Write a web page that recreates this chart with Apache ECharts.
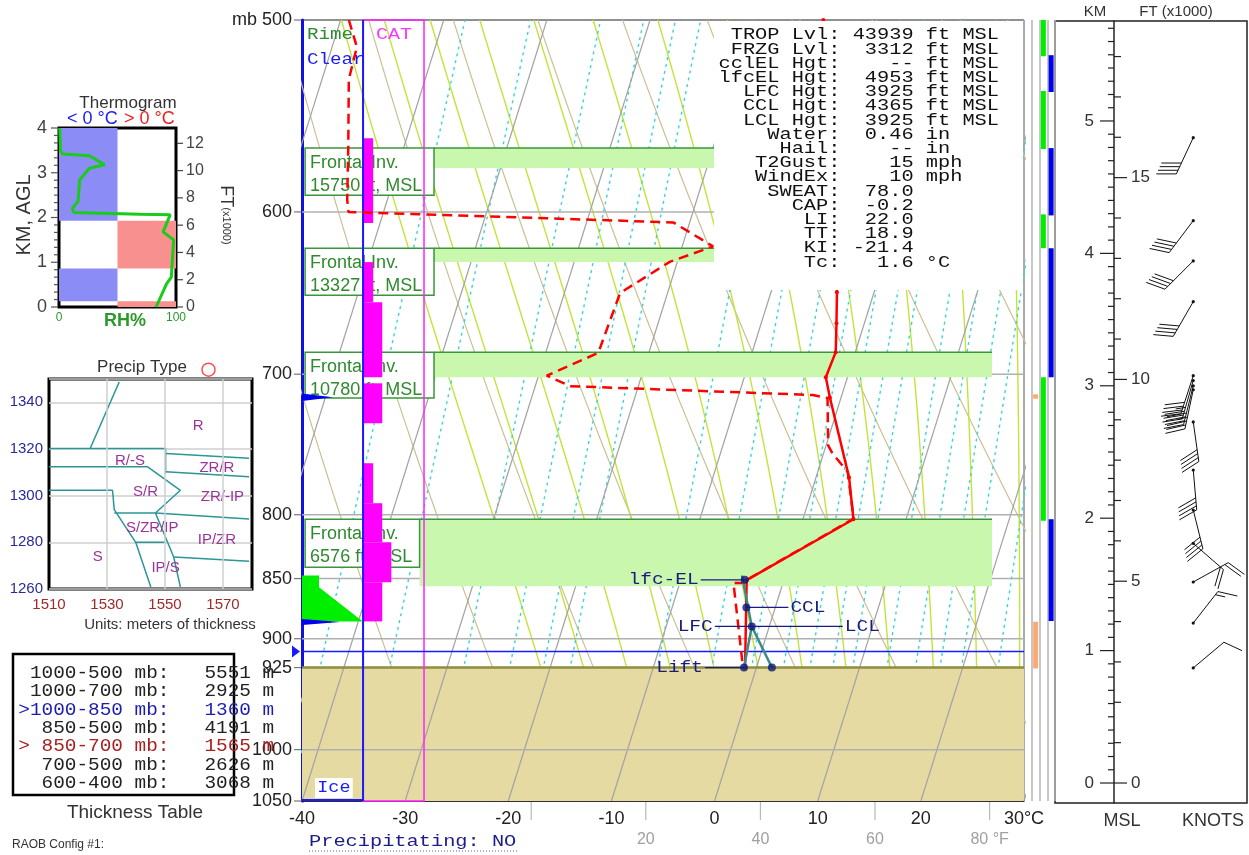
<!DOCTYPE html>
<html>
<head>
<meta charset="utf-8">
<title>RAOB sounding</title>
<script src="https://cdn.jsdelivr.net/npm/echarts@6/dist/echarts.min.js"></script>
<style>
html, body { margin: 0; padding: 0; background: #fff; }
#chart { width: 1249px; height: 855px; }
</style>
</head>
<body>
<div id="chart"></div>
<script>
// ---------------- data ----------------
// pressure axis
var axisLevels = [500, 600, 700, 800, 850, 900, 925, 1000, 1050];
var isobarLevels = [600, 700, 800, 850, 900, 1000];
var groundLevel = 925;
var markedLevel = 911;
// temperature / dewpoint profile (mb, °C)
var tempP = [500, 647.6, 667, 685.5, 702, 715.5, 772.1, 803.4, 851.3, 925];
var tempT = [-13.2, -3.6, -2.7, -1.9, -2.1, -1.1, 3.2, 4.9, -3.6, -1.1];
var dewP = [500, 513, 529, 564, 593, 600, 606, 620, 629, 648, 686, 701, 708, 714, 716, 749, 755, 768, 803, 851, 853.5, 853.5, 925];
var dewT = [-59.2, -57.6, -57.4, -55.4, -53.9, -53.4, -21.6, -17.0, -20.7, -24.6, -24.9, -29.2, -26.6, -2.8, -1.3, 0.2, 0.9, 2.9, 4.9, -3.6, -3.8, -4.8, -1.3];
// lifted parcel
var parcelP = [925, 889.5, 847.5];
var parcelT = [-1.2, -1.7, -4.2];
var convP = [925, 889.5];
var convT = [1.5, -1.7];
var parcelLabels = ['lfc-EL', 'CCL', 'LFC', 'LCL', 'Lift'];
var parcelLabelP = [851, 873.6, 889.5, 889.5, 925];
var parcelLabelT = [-3.8, -2.8, -1.7, -1.7, -1.2];
var parcelDotP = [851, 873.6, 889.5, 925, 925];
var parcelDotT = [-3.8, -2.8, -1.7, -1.2, 1.5];
// frontal inversions
var inversionFt = [15750, 13327, 10780, 6576];
var inversionTopP = [564.7, 621, 685.5, 803.4];
var inversionBottomP = [575.5, 629.3, 702, 856.3];
var inversionBoxBottomP = [590.6, 649.4, 716.1, 841];
// turbulence (CAT) and icing
var catTopP = [559.4, 629.3, 653.7, 706.1, 761.8, 791.3, 821.2, 853];
var catBottomP = [606.4, 653.7, 702, 733.4, 791.3, 821.2, 853, 885.3];
var catLevel = [1, 1, 2, 2, 1, 2, 3, 2];
var rimeP = [847.5, 857.1, 885.3];
var rimeAmount = [1.65, 1.65, 5.9];
var clearP = [715.5, 885.8];
var clearAmount = [3.0, 3.7];
// side strips (mb ranges)
var stripOrange = [[713.5, 716.5], [885.6, 925.8]];
var stripGreen = [[500, 517.5], [534.9, 565.2], [601.4, 621], [702, 804.5]];
var stripBlue = [[517, 535.4], [564.7, 602], [621, 702], [803.4, 885]];
// winds
var windKm = [4.874, 4.247, 3.943, 3.635, 3.076, 3.04, 3.0, 2.97, 2.727, 2.364, 2.062, 1.81, 1.518, 1.208, 0.869];
var windDir = [205, 217, 225, 210, 198, 196, 194, 192, 172, 175, 166, 131, 61, 38, 50];
var windKt = [40, 40, 40, 40, 40, 35, 40, 35, 40, 40, 40, 20, 20, 15, 10];
// stats block
var statLines = [
  ' TROP Lvl: 43939 ft MSL',
  ' FRZG Lvl:  3312 ft MSL',
  'cclEL Hgt:    -- ft MSL',
  'lfcEL Hgt:  4953 ft MSL',
  '  LFC Hgt:  3925 ft MSL',
  '  CCL Hgt:  4365 ft MSL',
  '  LCL Hgt:  3925 ft MSL',
  '    Water:  0.46 in',
  '     Hail:    -- in',
  '   T2Gust:    15 mph',
  '   WindEx:    10 mph',
  '    SWEAT:  78.0',
  '      CAP:  -0.2',
  '       LI:  22.0',
  '       TT:  18.9',
  '       KI: -21.4',
  '       Tc:   1.6 \u00b0C'
];
// thermogram
var thermoRH = [0.6, 1.4, 3.4, 26, 39, 26, 17.7, 16.3, 11.4, 12.6, 69, 95, 89, 98, 96, 92, 83];
var thermoKm = [4.0, 3.48, 3.42, 3.38, 3.18, 3.1, 2.84, 2.36, 2.21, 2.11, 2.07, 2.06, 1.68, 1.5, 0.67, 0.52, 0];
var thermoLayerBottom = [0, 0.13, 0.86, 1.93];
var thermoLayerTop = [0.13, 0.86, 1.93, 4];
var thermoLayerWarm = [1, 0, 1, 0];
// precip type nomogram
var ptLines = [
  [[1534.2, 1348.7], [1524.2, 1320.2]],
  [[1510, 1320.2], [1550.2, 1320.2], [1550.2, 1309.5]],
  [[1550.2, 1318.1], [1579, 1316]],
  [[1550.2, 1310.2], [1579, 1308.1]],
  [[1510, 1312.4], [1543.9, 1312.4], [1555.3, 1302.3], [1546.7, 1292.6], [1579, 1290]],
  [[1510, 1302.3], [1531.9, 1302.3], [1532.5, 1294.0], [1539.9, 1280.0], [1545.1, 1260.9]],
  [[1532.5, 1292.6], [1546.7, 1292.6]],
  [[1539.9, 1280], [1550.2, 1280]],
  [[1546.7, 1292.6], [1553, 1273.7], [1555.3, 1260.9]],
  [[1553, 1273.7], [1579, 1271.9]]
];
var ptNames = ['R', 'R/-S', 'ZR/R', 'S/R', 'ZR/-IP', 'S/ZR/IP', 'IP/ZR', 'S', 'IP/S'];
var ptX = [1561.4, 1537.9, 1567.9, 1543.3, 1569.8, 1545.6, 1567.9, 1526.8, 1550.2];
var ptY = [1330.1, 1315.1, 1311.9, 1301.5, 1299.5, 1286.2, 1280.9, 1273.7, 1269];
var ptMarker = [1565, 1354];
// thickness table
var thickLayers = ['1000-500', '1000-700', '1000-850', '850-500', '850-700', '700-500', '600-400'];
var thickValues = [5551, 2925, 1360, 4191, 1565, 2626, 3068];

// ---------------- helpers ----------------
var LN = Math.log;
var SKEW = 32;   // skew of isotherms, °C per ln(p)
function skewX(t, p) { return t + SKEW * LN(1050 / p); }
function toXY(tArr, pArr) {
  return pArr.map(function (p, i) { return [skewX(tArr[i], p), LN(p)]; });
}
var MONO = '"Liberation Mono", "DejaVu Sans Mono", monospace';
var SANS = 'Arial, "Liberation Sans", sans-serif';

// reference lines of the diagram
var refP = [];
for (var rp = 1050; rp >= 500; rp -= 10) refP.push(rp);
function dTdp(tC, p) {
  var T = tC + 273.15;
  var es = 6.112 * Math.exp(17.67 * tC / (tC + 243.5));
  var rs = 0.622 * es / (p - es);
  var num = 287.04 * T + 2.501e6 * rs;
  var den = 1005.7 + 2.501e6 * 2.501e6 * rs * 0.622 / (287.04 * T * T);
  return num / den / p;
}
function moistLine(tw) {
  var up = [], down = [], t = tw, p;
  for (p = 1000; p > 500; p -= 5) {
    up.push([p, t]);
    var k1 = dTdp(t, p), k2 = dTdp(t - 5 * k1, p - 5);
    t -= 2.5 * (k1 + k2);
  }
  up.push([500, t]);
  t = tw;
  for (p = 1000; p < 1050; p += 5) {
    var m1 = dTdp(t, p), m2 = dTdp(t + 5 * m1, p + 5);
    t += 2.5 * (m1 + m2);
    down.unshift([p + 5, t]);
  }
  return down.concat(up).map(function (d) { return [skewX(d[1], d[0]), LN(d[0])]; });
}
function mixLine(w) {
  return refP.map(function (p) {
    var e = w * p / (622 + w), l = LN(e / 6.112);
    return [skewX(243.5 * l / (17.67 - l), p), LN(p)];
  });
}
function dryLine(thC) {
  return refP.map(function (p) {
    return [skewX((thC + 273.15) * Math.pow(p / 1000, 0.2857) - 273.15, p), LN(p)];
  });
}

var series = [];
function refSeries(data, color, width, type, z) {
  series.push({
    type: 'line', xAxisIndex: 0, yAxisIndex: 0, data: data, symbol: 'none',
    silent: true, clip: true, z: z, lineStyle: { color: color, width: width, type: type }
  });
}
// short tick marks drawn through the axes' own scales
function tickSeries(xi, yi, data, toCoord) {
  series.push({
    type: 'custom', xAxisIndex: xi, yAxisIndex: yi, z: 20, silent: true, clip: false, data: data,
    renderItem: function (params, api) {
      var seg = toCoord(api);
      return { type: 'line', shape: { x1: seg[0], y1: seg[1], x2: seg[2], y2: seg[3] }, style: { stroke: seg[4] || '#222', lineWidth: 1.2 } };
    }
  });
}
var th, tw, ti;
for (th = -40; th <= 80; th += 10) refSeries(dryLine(th), '#cdbf94', 1.2, 'solid', 1);
for (tw = -16; tw <= 36; tw += 4) refSeries(moistLine(tw), '#c2e43a', 1.4, 'solid', 1);
[0.1, 0.2, 0.4, 0.6, 0.8, 1, 2, 3, 4, 5, 6, 7, 8, 10, 12, 14, 16, 20].forEach(function (m) {
  refSeries(mixLine(m), '#38d6d6', 1.4, [3, 4], 1);
});

// below-ground fill
series.push({
  type: 'custom', xAxisIndex: 0, yAxisIndex: 0, z: 2, silent: true,
  data: [[-40, LN(groundLevel), 30, LN(1050)]],
  renderItem: function (params, api) {
    var a = api.coord([api.value(0), api.value(1)]), b = api.coord([api.value(2), api.value(3)]);
    return { type: 'rect', shape: { x: a[0], y: a[1], width: b[0] - a[0], height: b[1] - a[1] }, style: { fill: '#e5daa2' } };
  }
});
for (ti = -100; ti <= 30; ti += 10) {
  refSeries([[skewX(ti, 1050), LN(1050)], [skewX(ti, 500), LN(500)]], '#a3a3a3', 1.2, 'solid', 3);
}
isobarLevels.forEach(function (p) { refSeries([[-40, LN(p)], [30, LN(p)]], '#b0b0b0', 1.5, 'solid', 3); });
refSeries([[-40, LN(groundLevel)], [30, LN(groundLevel)]], '#8e8e3e', 2.5, 'solid', 3);

// frontal inversion bands and labels
var BOX_LEFT = -39.7, BOX_RIGHT = [-27.2, -27.2, -27.2, -28.6], BAND_RIGHT = 26.9;
series.push({
  type: 'custom', xAxisIndex: 0, yAxisIndex: 0, z: 4, silent: true,
  data: inversionTopP.map(function (p, i) { return [LN(p), LN(inversionBottomP[i])]; }),
  renderItem: function (params, api) {
    var i = params.dataIndex;
    var a = api.coord([BOX_RIGHT[i], api.value(0)]), b = api.coord([BAND_RIGHT, api.value(1)]);
    return { type: 'group', children: [
      { type: 'rect', shape: { x: a[0], y: a[1], width: b[0] - a[0], height: b[1] - a[1] }, style: { fill: '#c9f7ae' } },
      { type: 'line', shape: { x1: a[0], y1: a[1], x2: b[0], y2: a[1] }, style: { stroke: '#3a963a', lineWidth: 1.5 } }
    ] };
  }
});
series.push({
  type: 'custom', xAxisIndex: 0, yAxisIndex: 0, z: 5, silent: true,
  data: inversionTopP.map(function (p, i) { return [LN(p), LN(inversionBoxBottomP[i])]; }),
  renderItem: function (params, api) {
    var i = params.dataIndex;
    var a = api.coord([BOX_LEFT, api.value(0)]), b = api.coord([BOX_RIGHT[i], api.value(1)]);
    return { type: 'group', children: [
      { type: 'rect', shape: { x: a[0], y: a[1], width: b[0] - a[0], height: b[1] - a[1] }, style: { fill: '#fff', stroke: '#3a963a', lineWidth: 1.5 } },
      { type: 'text', x: a[0] + 5, y: a[1] + 3, style: { text: 'Frontal Inv.\n' + inversionFt[i] + ' ft, MSL', fontSize: 18, fontFamily: SANS, fill: '#2f8a2f', lineHeight: 23, verticalAlign: 'top' } }
    ] };
  }
});

// icing / turbulence column
var ICE_BASE = -34.08, CAT_RIGHT = -28.17, CAT_STEP = 0.88;
series.push({
  type: 'custom', xAxisIndex: 0, yAxisIndex: 0, z: 6, silent: true,
  data: catTopP.map(function (p, i) { return [LN(p), LN(catBottomP[i]), catLevel[i]]; }),
  renderItem: function (params, api) {
    var a = api.coord([ICE_BASE, api.value(0)]);
    var b = api.coord([ICE_BASE + CAT_STEP * api.value(2) + 0.1, api.value(1)]);
    return { type: 'rect', shape: { x: a[0], y: a[1], width: b[0] - a[0], height: b[1] - a[1] }, style: { fill: '#ff00ff' } };
  }
});
series.push({
  type: 'custom', xAxisIndex: 0, yAxisIndex: 0, z: 6, silent: true,
  data: [[LN(500), LN(1050)]],
  renderItem: function (params, api) {
    var a = api.coord([-40, api.value(0)]), m = api.coord([ICE_BASE, api.value(1)]), b = api.coord([CAT_RIGHT, api.value(1)]);
    return { type: 'group', children: [
      { type: 'rect', shape: { x: m[0], y: a[1], width: b[0] - m[0], height: b[1] - a[1] }, style: { fill: 'none', stroke: '#ff22ff', lineWidth: 1.5 } },
      { type: 'line', shape: { x1: m[0], y1: a[1], x2: m[0], y2: m[1] }, style: { stroke: '#1a1aff', lineWidth: 2 } },
      { type: 'line', shape: { x1: a[0], y1: m[1] - 1, x2: m[0], y2: m[1] - 1 }, style: { stroke: '#1a1aff', lineWidth: 2 } }
    ] };
  }
});
series.push({
  type: 'custom', xAxisIndex: 0, yAxisIndex: 0, z: 6, silent: true,
  data: [0],
  renderItem: function (params, api) {
    var pts = [api.coord([-40, LN(rimeP[0])])];
    rimeP.forEach(function (p, i) { pts.push(api.coord([-40 + rimeAmount[i], LN(p)])); });
    pts.push(api.coord([-40, LN(rimeP[rimeP.length - 1])]));
    var kids = [{ type: 'polygon', shape: { points: pts }, style: { fill: '#00ee00' } }];
    clearP.forEach(function (p, i) {
      kids.push({ type: 'polygon', shape: { points: [
        api.coord([-40, LN(p - 2.5)]), api.coord([-40 + clearAmount[i], LN(p)]), api.coord([-40, LN(p + 2.5)])
      ] }, style: { fill: '#0000ee' } });
    });
    return { type: 'group', children: kids };
  }
});

// marked level
series.push({
  type: 'custom', xAxisIndex: 0, yAxisIndex: 0, z: 6, silent: true, clip: false,
  data: [[LN(markedLevel)]],
  renderItem: function (params, api) {
    var a = api.coord([-40, api.value(0)]), b = api.coord([30, api.value(0)]);
    return { type: 'group', children: [
      { type: 'line', shape: { x1: a[0], y1: a[1], x2: b[0], y2: b[1] }, style: { stroke: '#1a1aff', lineWidth: 1.5 } },
      { type: 'polygon', shape: { points: [[a[0] - 10, a[1] - 6], [a[0] - 2, a[1]], [a[0] - 10, a[1] + 6]] }, style: { fill: '#1a1aff' } }
    ] };
  }
});

// temperature and dewpoint
series.push({
  type: 'line', xAxisIndex: 0, yAxisIndex: 0, z: 7, data: toXY(tempT, tempP), clip: true,
  symbol: 'circle', symbolSize: 4, showSymbol: true, itemStyle: { color: '#ff0000' },
  lineStyle: { color: '#ff0000', width: 2.5 }
});
series.push({
  type: 'line', xAxisIndex: 0, yAxisIndex: 0, z: 7, data: toXY(dewT, dewP), clip: true,
  symbol: 'none', lineStyle: { color: '#ff0000', width: 2.5, type: [10, 6] }
});
// parcel
series.push({
  type: 'line', xAxisIndex: 0, yAxisIndex: 0, z: 8, data: toXY(parcelT, parcelP), symbol: 'none',
  lineStyle: { color: '#3a8c8c', width: 2.5 }
});
series.push({
  type: 'line', xAxisIndex: 0, yAxisIndex: 0, z: 8, data: toXY(convT, convP), symbol: 'none',
  lineStyle: { color: '#3a8c8c', width: 2.5 }
});
var LABEL_SIDE = [-1, 1, -1, 1, -1], LABEL_LEN = [44, 42, 37, 91, 39];
series.push({
  type: 'custom', xAxisIndex: 0, yAxisIndex: 0, z: 9, silent: true, clip: false,
  data: toXY(parcelLabelT, parcelLabelP),
  renderItem: function (params, api) {
    var i = params.dataIndex, c = api.coord([api.value(0), api.value(1)]);
    var s = LABEL_SIDE[i], ex = c[0] + s * LABEL_LEN[i];
    return { type: 'group', children: [
      { type: 'line', shape: { x1: c[0], y1: c[1], x2: ex, y2: c[1] }, style: { stroke: '#1a1a80', lineWidth: 1.3 } },
      { type: 'text', x: ex + s * 2, y: c[1], scaleX: 1.22, style: { text: parcelLabels[i], fontSize: 16, fontFamily: MONO, fill: '#1a1a80', align: s < 0 ? 'right' : 'left', verticalAlign: 'middle' } }
    ] };
  }
});
series.push({
  type: 'scatter', xAxisIndex: 0, yAxisIndex: 0, z: 10, data: toXY(parcelDotT, parcelDotP),
  symbol: 'circle', symbolSize: 8, itemStyle: { color: '#0b1a7a' }, silent: true
});

// side strips
function stripData(list, col) { return list.map(function (r) { return [col, LN(r[0]), LN(r[1])]; }); }
var stripColors = ['#ffa870', '#00ee00', '#0000ee'];
series.push({
  type: 'custom', xAxisIndex: 2, yAxisIndex: 1, z: 5, silent: true,
  data: stripData(stripOrange, 1).concat(stripData(stripGreen, 2), stripData(stripBlue, 3)),
  renderItem: function (params, api) {
    var col = api.value(0), a = api.coord([col, api.value(1)]), b = api.coord([col, api.value(2)]);
    return { type: 'rect', shape: { x: a[0] - 2.5, y: a[1], width: 5, height: b[1] - a[1] }, style: { fill: stripColors[col - 1] } };
  }
});

// wind barbs
var BARB_X = 0.72;
series.push({
  type: 'custom', xAxisIndex: 4, yAxisIndex: 7, z: 5, silent: true, clip: false,
  data: windKm.map(function (k, i) { return [k, windDir[i], windKt[i]]; }),
  renderItem: function (params, api) {
    var c = api.coord([BARB_X, api.value(0)]);
    var d = api.value(1) * Math.PI / 180, spd = api.value(2);
    var ux = Math.sin(d), uy = -Math.cos(d), L = 40;
    var ex = c[0] + ux * L, ey = c[1] + uy * L;
    var fa = Math.atan2(uy, ux) + 65 * Math.PI / 180, fx = Math.cos(fa), fy = Math.sin(fa);
    var kids = [
      { type: 'line', shape: { x1: c[0], y1: c[1], x2: ex, y2: ey }, style: { stroke: '#111', lineWidth: 1 } },
      { type: 'circle', shape: { cx: c[0], cy: c[1], r: 1.6 }, style: { fill: '#111' } }
    ];
    var n10 = Math.floor(spd / 10), n5 = Math.round((spd - n10 * 10) / 5), k;
    for (k = 0; k < n10 + n5; k++) {
      var sx = ex - ux * k * 4, sy = ey - uy * k * 4, len = k < n10 ? 20 : 10;
      kids.push({ type: 'line', shape: { x1: sx, y1: sy, x2: sx + fx * len, y2: sy + fy * len }, style: { stroke: '#111', lineWidth: 1 } });
    }
    return { type: 'group', children: kids };
  }
});

// thermogram
series.push({
  type: 'custom', xAxisIndex: 5, yAxisIndex: 8, z: 2, silent: true,
  data: thermoLayerBottom.map(function (b, i) { return [b, thermoLayerTop[i], thermoLayerWarm[i]]; }),
  renderItem: function (params, api) {
    var warm = api.value(2);
    var a = api.coord([warm ? 50 : 0, api.value(1)]), b = api.coord([warm ? 100 : 50, api.value(0)]);
    return { type: 'rect', shape: { x: a[0], y: a[1], width: b[0] - a[0], height: b[1] - a[1] }, style: { fill: warm ? '#f89090' : '#8c8cf6' } };
  }
});
series.push({
  type: 'line', xAxisIndex: 5, yAxisIndex: 8, z: 4, symbol: 'none', silent: true,
  data: thermoRH.map(function (r, i) { return [r, thermoKm[i]]; }),
  lineStyle: { color: '#19cc19', width: 3 }
});

// precip type
ptLines.forEach(function (ln) {
  series.push({ type: 'line', xAxisIndex: 6, yAxisIndex: 10, z: 3, symbol: 'none', silent: true, data: ln, lineStyle: { color: '#2b9696', width: 1.5 } });
});
series.push({
  type: 'custom', xAxisIndex: 6, yAxisIndex: 10, z: 4, silent: true,
  data: ptX.map(function (x, i) { return [x, ptY[i]]; }),
  renderItem: function (params, api) {
    var c = api.coord([api.value(0), api.value(1)]);
    return { type: 'text', x: c[0], y: c[1], style: { text: ptNames[params.dataIndex], fontSize: 15, fontFamily: SANS, fill: '#9a3399', align: 'center', verticalAlign: 'middle' } };
  }
});
series.push({
  type: 'scatter', xAxisIndex: 6, yAxisIndex: 10, z: 5, clip: false, silent: true, data: [ptMarker],
  symbol: 'circle', symbolSize: 13, itemStyle: { color: 'rgba(0,0,0,0)', borderColor: '#ff2020', borderWidth: 1.5 }
});
// vertical grid lines of the precip-type box
series.push({
  type: 'line', xAxisIndex: 6, yAxisIndex: 10, z: 1, data: [], silent: true,
  markLine: { symbol: 'none', silent: true, label: { show: false }, lineStyle: { color: '#cfcfcf', width: 1.5, type: 'solid' },
    data: [{ xAxis: 1530 }, { xAxis: 1550 }, { xAxis: 1570 }] }
});

// ---------------- tick marks ----------------
var lnAxis = axisLevels.map(LN);
var q, windTicks = [], thermoTicks = [];
for (q = 0; q <= 57; q++) windTicks.push([q / 10, q % 10 === 0 ? 1 : 0]);        // km, left of axis
for (q = 0; q <= 18; q++) windTicks.push([q * 0.3048, q % 5 === 0 ? 3 : 2]);     // ft x1000, right of axis
for (q = 0; q <= 24; q++) thermoTicks.push([q / 6, q % 6 === 0 ? 1 : 0]);        // km AGL, left
for (q = 0; q <= 12; q += 2) thermoTicks.push([q * 0.3048, 2]);                  // ft x1000, right
var WIND_TICK = [6, 14, 7, 13];
tickSeries(0, 0, lnAxis, function (api) {
  var c = api.coord([-40, api.value(0)]);
  return [c[0] - 8, c[1], c[0] - 1, c[1], '#777'];
});
tickSeries(1, 0, [0, 20, 40, 60, 80], function (api) {
  var c = api.coord([api.value(0), LN(1050)]);
  return [c[0], c[1] + 1, c[0], c[1] + 19, '#b8b8b8'];
});
tickSeries(3, 2, windTicks, function (api) {
  var kind = api.value(1), c = api.coord([1, api.value(0)]), len = WIND_TICK[kind];
  return kind < 2 ? [c[0] - len, c[1], c[0], c[1]] : [c[0], c[1], c[0] + len, c[1]];
});
tickSeries(5, 8, thermoTicks, function (api) {
  var kind = api.value(1);
  if (kind === 2) { var r = api.coord([100, api.value(0)]); return [r[0] + 1, r[1], r[0] + 7, r[1], '#444']; }
  var c = api.coord([0, api.value(0)]);
  return [c[0] - (kind ? 8 : 5), c[1], c[0] - 1, c[1], '#555'];
});

// ---------------- axes ----------------
var hidden = { show: false };
function plain(v) { return String(v); }

var option = {
  animation: false,
  backgroundColor: '#fff',
  grid: [
    { left: 302, top: 20, width: 722, height: 781, show: true, borderColor: '#222', borderWidth: 1 },
    { left: 1024, top: 20, width: 31, height: 781 },
    { left: 1055, top: 21, width: 59, height: 782 },
    { left: 1055, top: 21, width: 192, height: 782, show: true, borderColor: '#222', borderWidth: 1.5 },
    { left: 59, top: 128, width: 117, height: 179, show: true, borderColor: '#000', borderWidth: 3 },
    { left: 49, top: 379, width: 203, height: 210, show: true, borderColor: '#000', borderWidth: 3 }
  ],
  xAxis: [
    { gridIndex: 0, type: 'value', min: -40, max: 30, interval: 10,
      axisLine: { onZero: false, lineStyle: { color: '#111', width: 1.5 } }, axisTick: hidden, splitLine: hidden,
      axisLabel: { fontSize: 18, fontFamily: SANS, color: '#222', margin: 9, formatter: function (v) { return v === 30 ? '30\u00b0C' : String(v); } } },
    { gridIndex: 0, type: 'value', min: -40, max: 86, position: 'bottom',
      axisLine: { show: false, onZero: false }, splitLine: hidden, axisTick: hidden,
      axisLabel: { customValues: [20, 40, 60, 80], fontSize: 16, fontFamily: SANS, color: '#a0a0a0', margin: 31, formatter: function (v) { return v === 80 ? '80 \u00b0F' : String(v); } } },
    { gridIndex: 1, type: 'category', data: ['', 'o', 'g', 'b'], axisLine: hidden, axisTick: hidden, axisLabel: hidden,
      splitLine: { show: true, interval: 0, lineStyle: { color: '#b4b4b4', width: 1.5 } } },
    { gridIndex: 2, type: 'value', min: 0, max: 1, show: false },
    { gridIndex: 3, type: 'value', min: 0, max: 1, show: false },
    { gridIndex: 4, type: 'value', min: 0, max: 100, axisLine: hidden, axisTick: hidden, splitLine: hidden,
      axisLabel: { customValues: [0, 100], fontSize: 12, fontFamily: SANS, color: '#2a9a2a', margin: 5, formatter: plain } },
    { gridIndex: 5, type: 'value', min: 1510, max: 1580, axisLine: hidden, axisTick: hidden,
      splitLine: hidden,
      axisLabel: { customValues: [1510, 1530, 1550, 1570], fontSize: 15, fontFamily: SANS, color: '#a02a2a', margin: 8, formatter: plain } }
  ],
  yAxis: [
    { gridIndex: 0, type: 'value', inverse: true, min: LN(500), max: LN(1050),
      axisLine: { show: true, onZero: false, lineStyle: { color: '#1010e0', width: 3 } }, splitLine: hidden, axisTick: hidden,
      axisLabel: { customValues: lnAxis, fontSize: 18, fontFamily: SANS, color: '#222', margin: 10,
        formatter: function (v) { var p = Math.round(Math.exp(v)); return p === 500 ? 'mb 500' : String(p); } } },
    { gridIndex: 1, type: 'value', inverse: true, min: LN(500), max: LN(1050), show: false },
    // wind height axes (km on the left of the line, ft x1000 on the right)
    { gridIndex: 2, type: 'value', position: 'right', min: -0.151, max: 5.755,
      axisLine: { show: true, onZero: false, lineStyle: { color: '#222', width: 1.5 } }, splitLine: hidden, axisTick: hidden,
      axisLabel: { inside: true, customValues: [0, 1, 2, 3, 4, 5], fontSize: 17, fontFamily: SANS, color: '#333', margin: 20 } },
    { gridIndex: 2, type: 'value', show: false, min: 0, max: 1 },
    { gridIndex: 2, type: 'value', position: 'right', min: -0.151 / 0.3048, max: 5.755 / 0.3048,
      axisLine: { show: false, onZero: false }, splitLine: hidden, axisTick: hidden,
      axisLabel: { customValues: [0, 5, 10, 15], fontSize: 17, fontFamily: SANS, color: '#333', margin: 17 } },
    { gridIndex: 2, type: 'value', show: false, min: 0, max: 1 },
    { gridIndex: 2, type: 'value', show: false, min: 0, max: 1 },
    { gridIndex: 3, type: 'value', show: false, min: -0.151, max: 5.755 },
    // thermogram
    { gridIndex: 4, type: 'value', min: 0, max: 4, interval: 1, position: 'left',
      axisLine: hidden, splitLine: hidden, axisTick: hidden,
      axisLabel: { fontSize: 18, fontFamily: SANS, color: '#444', margin: 12 } },
    { gridIndex: 4, type: 'value', min: 0, max: 4 / 0.3048, position: 'right',
      axisLine: hidden, splitLine: hidden, axisTick: hidden,
      axisLabel: { customValues: [0, 2, 4, 6, 8, 10, 12], fontSize: 16, fontFamily: SANS, color: '#444', margin: 10 } },
    // precip type
    { gridIndex: 5, type: 'value', min: 1260, max: 1350, interval: 20,
      axisLine: hidden, axisTick: hidden,
      splitLine: { show: true, lineStyle: { color: '#cfcfcf', width: 1.5 } },
      axisLabel: { fontSize: 15, fontFamily: SANS, color: '#2a2a9a', margin: 6, formatter: function (v) { return v === 1350 ? '' : String(v); } } }
  ],
  series: series
};

// ---------------- text and frames ----------------
function T(x, y, text, size, color, opts) {
  var o = opts || {};
  return {
    type: 'text', x: x, y: y, z: o.z || 60, rotation: o.rotation || 0, scaleX: o.scaleX || 1,
    style: {
      text: text, fontSize: size, fontFamily: o.family || SANS, fill: color, fontWeight: o.weight || 'normal',
      align: o.align || 'left', verticalAlign: o.valign || 'middle', lineHeight: o.lineHeight,
      backgroundColor: o.bg, padding: o.pad, rich: o.rich
    }
  };
}
var thickText = thickLayers.map(function (l, i) {
  var lead = (i === 2 || i === 4) ? '>' : ' ';
  var name = (l.length === 7 ? ' ' + l : l);
  return lead + name + ' mb:   ' + thickValues[i] + ' m';
});
var thickColors = ['#222', '#222', '#1c1cb0', '#222', '#a82020', '#222', '#222'];

var graphics = [
  { type: 'rect', z: 50, shape: { x: 714, y: 21, width: 309, height: 269 }, style: { fill: '#fff' } },
  T(718.5, 28, statLines.join('\n'), 16, '#111', { family: MONO, valign: 'top', lineHeight: 14.2, scaleX: 1.27, z: 51 }),
  T(307, 35, 'Rime', 16, '#2e8b2e', { family: MONO, scaleX: 1.2 }),
  T(376, 35, 'CAT', 16, '#ff33ff', { family: MONO, scaleX: 1.25 }),
  T(307, 60, 'Clear', 16, '#1a1aff', { family: MONO, scaleX: 1.2 }),
  T(315, 788, 'Ice', 16, '#1a1aff', { family: MONO, scaleX: 1.15, bg: '#fff', pad: [2, 2, 2, 2] }),
  T(309, 842, 'Precipitating: NO', 16, '#1c1c8c', { family: MONO, scaleX: 1.27 }),
  { type: 'line', z: 60, shape: { x1: 309, y1: 851, x2: 519, y2: 851 }, style: { stroke: '#5a5ab0', lineWidth: 1, lineDash: [1, 2] } },
  T(1095, 12, 'KM', 15, '#333', { align: 'center' }),
  T(1176, 12, 'FT (x1000)', 15, '#333', { align: 'center' }),
  T(1122, 821, 'MSL', 18, '#333', { align: 'center' }),
  T(1213, 821, 'KNOTS', 18, '#333', { align: 'center' }),
  // thermogram
  T(128, 103, 'Thermogram', 17, '#333', { align: 'center' }),
  T(67, 119, '< 0 \u00b0C', 18, '#2020ee', { z: 1 }),
  T(124, 119, '> 0 \u00b0C', 18, '#ee2020', { z: 1 }),
  T(24, 215, 'KM, AGL', 20, '#333', { align: 'center', rotation: Math.PI / 2 }),
  T(226, 215, '{a|FT}{b|(x1000)}', 18, '#333', { align: 'center', rotation: -Math.PI / 2, rich: { a: { fontSize: 18, fontFamily: SANS, fill: '#333' }, b: { fontSize: 11, fontFamily: SANS, fill: '#333' } } }),
  T(125, 321, 'RH%', 18, '#2a9a2a', { align: 'center', weight: 'bold' }),
  // precip type
  T(142, 367, 'Precip Type', 17, '#333', { align: 'center' }),
  T(170, 625, 'Units: meters of thickness', 15, '#333', { align: 'center' }),
  // thickness table
  { type: 'rect', z: 55, shape: { x: 13, y: 654, width: 221, height: 141 }, style: { fill: 'none', stroke: '#000', lineWidth: 2.5 } },
  T(135, 813, 'Thickness Table', 19, '#333', { align: 'center' }),
  T(12, 845, 'RAOB Config #1:', 12, '#333')
];
thickText.forEach(function (s, i) {
  graphics.push(T(18.3, 673 + i * 18.3, s, 19, thickColors[i], { family: MONO, scaleX: 1.02 }));
});
option.graphic = { elements: graphics };

var chart = echarts.init(document.getElementById('chart'));
chart.setOption(option);
</script>
</body>
</html>
